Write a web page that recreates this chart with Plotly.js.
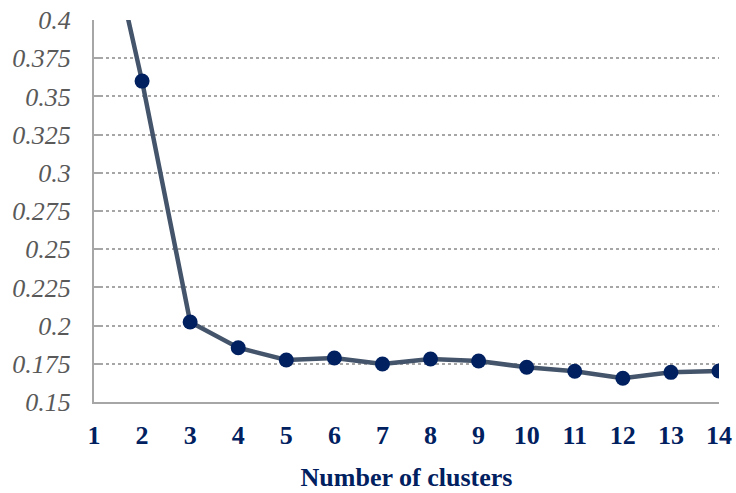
<!DOCTYPE html>
<html><head><meta charset="utf-8">
<script src="https://cdn.plot.ly/plotly-3.0.1.min.js"></script>
<style>body{margin:0;padding:0;}#chart{width:736px;height:493px;}</style>
</head><body><div id="chart"></div>
<script>
const clusters = [1,2,3,4,5,6,7,8,9,10,11,12,13,14];
const scores = [0.50,0.360,0.2024,0.1855,0.1775,0.1788,0.1749,0.1781,0.1768,0.1727,0.1701,0.1655,0.1694,0.1703];
const yTicks = [0.15,0.175,0.2,0.225,0.25,0.275,0.3,0.325,0.35,0.375,0.4];
const yTickText = ['0.15','0.175','0.2','0.225','0.25','0.275','0.3','0.325','0.35','0.375','0.4'];
const xTitle = 'Number of clusters';

const serif = 'Liberation Serif';
const trace = {
  x: clusters, y: scores, type: 'scatter', mode: 'lines+markers',
  line: {color: '#44546A', width: 4.5},
  marker: {color: '#002060', size: 15},
  cliponaxis: true, hoverinfo: 'none'
};
const layout = {
  width: 736, height: 493,
  margin: {l: 94, r: 17, t: 20, b: 91},
  paper_bgcolor: '#ffffff', plot_bgcolor: '#ffffff',
  showlegend: false,
  xaxis: {
    range: [1, 14], tickvals: clusters, ticktext: clusters.map(String),
    showgrid: false, zeroline: false,
    showline: true, linecolor: '#A6A6A6', linewidth: 2,
    ticks: '', ticklabelstandoff: 9,
    tickfont: {family: serif, size: 26, color: '#002060', weight: 'bold'},
    title: {text: '<b>' + xTitle + '</b>', standoff: 19,
      font: {family: serif, size: 26, color: '#002060'}}
  },
  yaxis: {
    range: [0.15, 0.4], tickvals: yTicks, ticktext: yTickText,
    showgrid: true, gridcolor: '#A6A6A6', gridwidth: 2, griddash: 'dot',
    zeroline: false, showline: true, linecolor: '#A6A6A6', linewidth: 2,
    ticks: 'inside', ticklen: 6, tickwidth: 2, tickcolor: '#A6A6A6',
    ticklabelstandoff: 16,
    tickfont: {family: serif, size: 26, color: '#595959', style: 'italic'}
  }
};
Plotly.newPlot('chart', [trace], layout, {staticPlot: true, displayModeBar: false});
</script></body></html>
